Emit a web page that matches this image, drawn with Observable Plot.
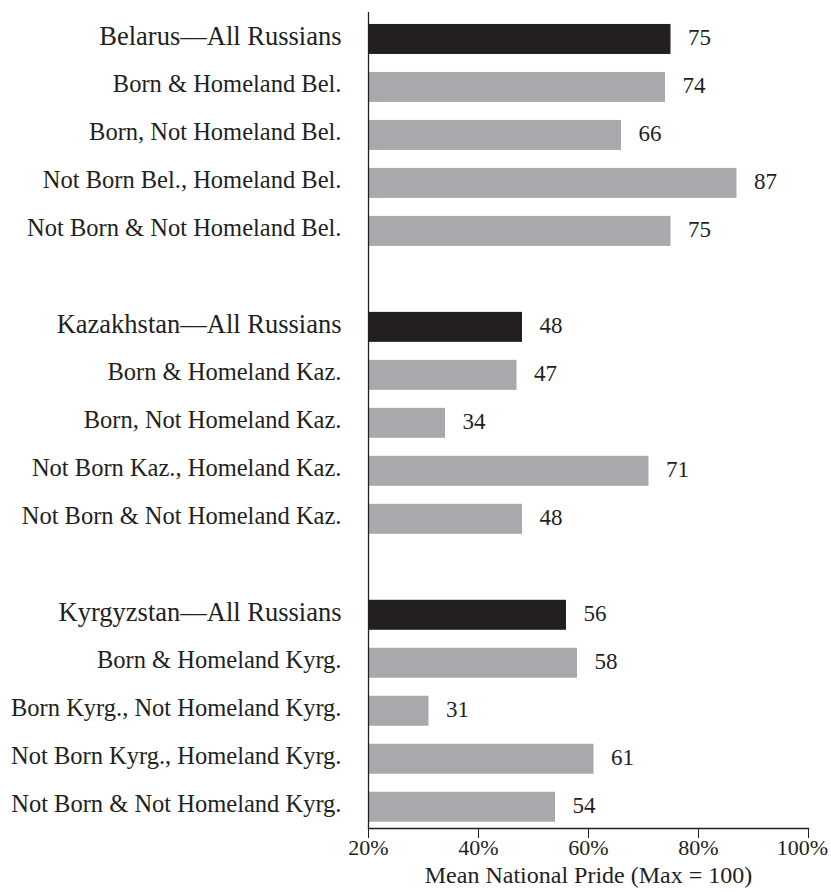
<!DOCTYPE html>
<html>
<head>
<meta charset="utf-8">
<script src="https://cdn.jsdelivr.net/npm/d3@7"></script>
<script src="https://cdn.jsdelivr.net/npm/@observablehq/plot@0.6"></script>
<style>
  html, body { margin: 0; padding: 0; background: #fff; }
  #chart svg { display: block; }
</style>
</head>
<body>
<div id="chart"></div>
<script>
const categories = [
  "Belarus—All Russians",
  "Born & Homeland Bel.",
  "Born, Not Homeland Bel.",
  "Not Born Bel., Homeland Bel.",
  "Not Born & Not Homeland Bel.",
  "Kazakhstan—All Russians",
  "Born & Homeland Kaz.",
  "Born, Not Homeland Kaz.",
  "Not Born Kaz., Homeland Kaz.",
  "Not Born & Not Homeland Kaz.",
  "Kyrgyzstan—All Russians",
  "Born & Homeland Kyrg.",
  "Born Kyrg., Not Homeland Kyrg.",
  "Not Born Kyrg., Homeland Kyrg.",
  "Not Born & Not Homeland Kyrg."
];
const pride = [75, 74, 66, 87, 75, 48, 47, 34, 71, 48, 56, 58, 31, 61, 54];
const allRussians = [true, false, false, false, false, true, false, false, false, false, true, false, false, false, false];
const xTicks = [20, 40, 60, 80, 100];
const xLabel = "Mean National Pride (Max = 100)";

const data = categories.map((c, i) => ({label: c, value: pride[i], total: allRussians[i]}));

// y domain with blank spacer rows between country groups
const yDomain = [];
categories.forEach((c, i) => {
  if (i > 0 && allRussians[i]) yDomain.push(" ".repeat(yDomain.length));
  yDomain.push(c);
});

const ink = "#231f20";
const grey = "#a7a9ac";
const font = "'Liberation Serif', 'Times New Roman', serif";
const pct = d => d + "%";

const chart = Plot.plot({
  width: 831,
  height: 892,
  marginTop: 12,
  marginBottom: 64,
  marginLeft: 368,
  marginRight: 23,
  style: {fontFamily: font, color: ink, background: "#fff"},
  x: {domain: [20, 100], ticks: xTicks, tickFormat: pct, label: null},
  y: {domain: yDomain, round: false, paddingInner: 0.375, paddingOuter: 0.19, align: 0.656, label: null},
  marks: [
    Plot.barX(data, {x1: 20, x2: "value", y: "label", fill: d => d.total ? ink : grey}),
    Plot.text(data, {x: "value", y: "label", text: d => String(d.value), dx: 17, dy: -2, textAnchor: "start", fontSize: 23, fill: ink}),
    Plot.text(data.filter(d => d.total), {x: 20, y: "label", text: "label", dx: -27, dy: -3, textAnchor: "end", fontSize: 26.5, fill: ink}),
    Plot.text(data.filter(d => !d.total), {x: 20, y: "label", text: "label", dx: -27, dy: -3, textAnchor: "end", fontSize: 24.5, fill: ink}),
    Plot.axisX({ticks: xTicks, tickFormat: d => d === 100 ? "" : pct(d), tickSize: 10, tickPadding: 1, fontSize: 22, label: null, stroke: ink, color: ink}),
    Plot.axisX({ticks: [100], tickFormat: pct, tickSize: 0, tickPadding: 11, dx: -6, fontSize: 22, label: null, color: ink}),
    Plot.axisY({ticks: [], label: null}),
    Plot.text([xLabel], {frameAnchor: "bottom", dy: 54, text: d => d, fontSize: 24, fill: ink}),
    Plot.ruleX([20], {stroke: ink, strokeWidth: 1.3}),
    Plot.frame({anchor: "bottom", stroke: ink, strokeWidth: 1.3})
  ]
});
document.getElementById("chart").appendChild(chart);
</script>
</body>
</html>
